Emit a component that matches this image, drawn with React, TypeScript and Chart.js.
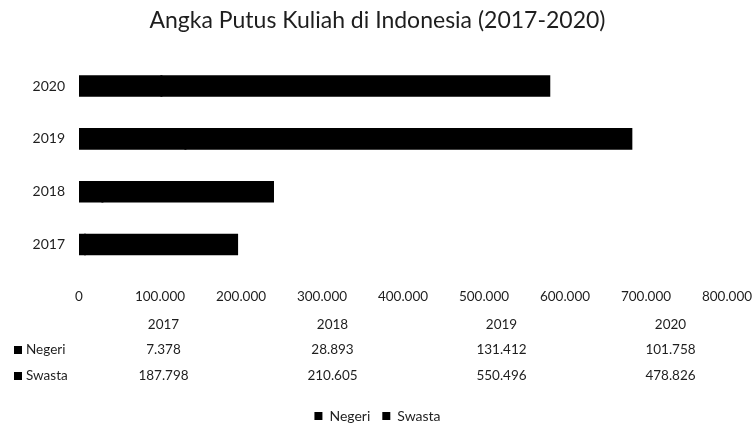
import React, { useEffect, useRef } from 'react';
import { Chart, registerables } from 'chart.js';

Chart.register(...registerables);

const categories = ['2017', '2018', '2019', '2020'];
const seriesNames = ['Negeri', 'Swasta'];
const negeri = [7378, 28893, 131412, 101758];
const swasta = [187798, 210605, 550496, 478826];
const axisMax = 800000;
const axisStep = 100000;
const titleText = 'Angka Putus Kuliah di Indonesia (2017-2020)';

const FONT = 'Lato, "Open Sans", sans-serif';
const TEXT = '#1e1e1e';

const fmt = (v: number) => String(v).replace(/\B(?=(\d{3})+(?!\d))/g, '.');

const dataTablePlugin = {
  id: 'dataTable',
  afterDraw(chart: any) {
    const { ctx, chartArea } = chart;
    const left = chartArea.left;
    const right = chart.width;
    const colW = (right - left) / categories.length;
    const base = chartArea.bottom;
    ctx.save();
    ctx.fillStyle = TEXT;
    ctx.font = `13.5px ${FONT}`;
    ctx.textBaseline = 'middle';
    ctx.textAlign = 'center';
    categories.forEach((c, i) => {
      ctx.fillText(c, left + colW * (i + 0.5), base + 54);
    });
    const rows = [negeri, swasta];
    rows.forEach((vals, r) => {
      const y = base + 79 + r * 26;
      ctx.textAlign = 'left';
      ctx.fillStyle = '#000';
      ctx.fillRect(14, y - 4, 8, 8);
      ctx.fillStyle = TEXT;
      ctx.fillText(seriesNames[r], 26, y);
      ctx.textAlign = 'center';
      vals.forEach((v, i) => {
        ctx.fillText(fmt(v), left + colW * (i + 0.5), y);
      });
    });
    ctx.restore();
  },
};

export default function App() {
  const ref = useRef<HTMLCanvasElement | null>(null);
  useEffect(() => {
    if (!ref.current) return;
    const chart = new Chart(ref.current, {
      type: 'bar',
      data: {
        labels: categories,
        datasets: [
          { label: seriesNames[0], data: negeri, backgroundColor: '#000', borderWidth: 0, inflateAmount: 1 },
          { label: seriesNames[1], data: swasta, backgroundColor: '#000', borderWidth: 0, inflateAmount: 1 },
        ],
      },
      options: {
        indexAxis: 'y',
        animation: false,
        responsive: false,
        devicePixelRatio: 1,
        layout: { padding: { left: 0, right: 0, top: 0, bottom: 1 } },
        datasets: { bar: { categoryPercentage: 1, barPercentage: 0.37 } },
        scales: {
          x: {
            stacked: true,
            min: 0,
            max: axisMax,
            grid: { display: false, drawTicks: false },
            border: { display: false },
            ticks: {
              stepSize: axisStep,
              padding: 18,
              color: TEXT,
              font: { family: FONT, size: 13.5 },
              callback: (v: any) => fmt(Number(v)),
              maxRotation: 0,
              autoSkip: false,
            },
            afterFit: (s: any) => { s.height = 126; s.paddingRight = 28; },
          },
          y: {
            stacked: true,
            reverse: true,
            grid: { display: false, drawTicks: false },
            border: { display: false },
            ticks: { padding: 14, color: TEXT, font: { family: FONT, size: 14 } },
            afterFit: (s: any) => { s.width = 79; },
          },
        },
        plugins: {
          title: {
            display: true,
            text: titleText,
            color: TEXT,
            font: { family: FONT, size: 23, weight: 'normal' },
            padding: { top: 7, bottom: 25 },
          },
          legend: {
            display: true,
            position: 'bottom',
            labels: {
              color: TEXT,
              font: { family: FONT, size: 14 },
              boxWidth: 8,
              boxHeight: 8,
              padding: 12,
            },
          },
          tooltip: { enabled: false },
        },
      },
      plugins: [dataTablePlugin],
    } as any);
    return () => chart.destroy();
  }, []);
  return (
    <div style={{ position: 'fixed', left: 0, top: 0, width: 755, height: 434, background: '#fff' }}>
      <canvas ref={ref} width={755} height={434} style={{ width: 755, height: 434 }} />
    </div>
  );
}
